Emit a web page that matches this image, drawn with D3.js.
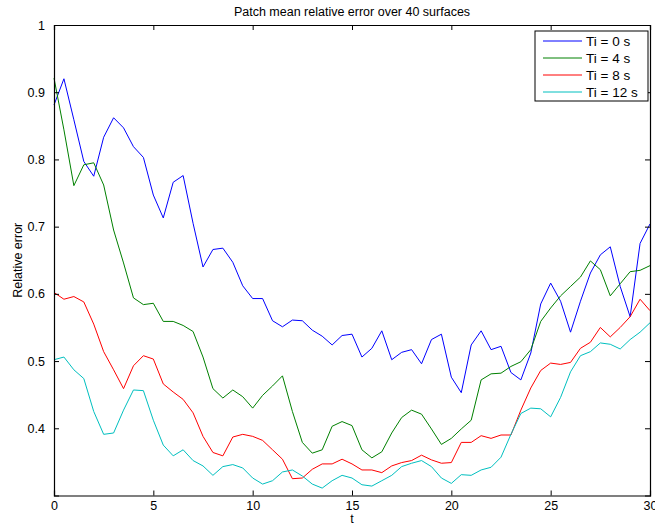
<!DOCTYPE html>
<html lang="en">

<head>
    <meta charset="UTF-8">
    <title>Patch mean relative error over 40 surfaces</title>
    <style>
        body {
            margin: 0;
            background: #fff;
        }

        svg text {
            font-family: "Liberation Sans", Arial, sans-serif;
            fill: #000;
        }
    </style>
</head>

<body>
    <div class="box"></div>
    <script src="https://d3js.org/d3.v7.min.js"></script>

    <script>
        // sample times, every 0.5 s from 0 to 30
        const tValues = d3.range(0, 30.001, 0.5);

        const ti0 = [0.881, 0.920, 0.859, 0.797, 0.775, 0.833, 0.862, 0.847, 0.819, 0.803,
            0.747, 0.713, 0.766, 0.776, 0.705, 0.640, 0.666, 0.668, 0.647, 0.612,
            0.593, 0.593, 0.560, 0.551, 0.561, 0.560, 0.546, 0.537, 0.524, 0.538,
            0.540, 0.506, 0.519, 0.545, 0.502, 0.513, 0.517, 0.496, 0.532, 0.540,
            0.476, 0.453, 0.524, 0.545, 0.517, 0.522, 0.483, 0.472, 0.512, 0.585,
            0.616, 0.589, 0.543, 0.589, 0.631, 0.658, 0.670, 0.611, 0.566, 0.675,
            0.704];

        const ti4 = [0.921, 0.844, 0.761, 0.792, 0.795, 0.762, 0.695, 0.646, 0.594, 0.584,
            0.586, 0.559, 0.559, 0.553, 0.544, 0.506, 0.459, 0.445, 0.457, 0.447,
            0.430, 0.449, 0.463, 0.478, 0.425, 0.379, 0.363, 0.368, 0.403, 0.410,
            0.404, 0.368, 0.356, 0.365, 0.393, 0.416, 0.427, 0.421, 0.399, 0.376,
            0.385, 0.399, 0.412, 0.472, 0.481, 0.482, 0.492, 0.499, 0.517, 0.559,
            0.579, 0.597, 0.611, 0.625, 0.649, 0.636, 0.597, 0.615, 0.633, 0.635,
            0.642];

        const ti8 = [0.602, 0.592, 0.596, 0.588, 0.555, 0.514, 0.487, 0.459, 0.493, 0.508,
            0.503, 0.466, 0.454, 0.443, 0.423, 0.388, 0.364, 0.359, 0.387, 0.391,
            0.388, 0.382, 0.368, 0.354, 0.325, 0.326, 0.339, 0.347, 0.347, 0.354,
            0.347, 0.338, 0.338, 0.334, 0.344, 0.349, 0.352, 0.360, 0.353, 0.348,
            0.349, 0.379, 0.379, 0.389, 0.385, 0.390, 0.390, 0.427, 0.460, 0.486,
            0.497, 0.495, 0.498, 0.519, 0.528, 0.550, 0.536, 0.550, 0.566, 0.592,
            0.575];

        const ti12 = [0.502, 0.506, 0.487, 0.474, 0.425, 0.391, 0.393, 0.427, 0.457, 0.456,
            0.412, 0.375, 0.359, 0.368, 0.352, 0.344, 0.330, 0.343, 0.346, 0.341,
            0.326, 0.317, 0.322, 0.335, 0.338, 0.329, 0.317, 0.311, 0.322, 0.330,
            0.326, 0.316, 0.314, 0.322, 0.330, 0.343, 0.348, 0.352, 0.343, 0.326,
            0.318, 0.331, 0.330, 0.338, 0.342, 0.357, 0.391, 0.422, 0.430, 0.429,
            0.417, 0.446, 0.484, 0.508, 0.514, 0.527, 0.525, 0.518, 0.532, 0.543,
            0.557];

        const seriesNames = ["Ti = 0 s", "Ti = 4 s", "Ti = 8 s", "Ti = 12 s"];
        const seriesColors = ["#0000ff", "#008000", "#ff0000", "#00bfbf"];
        const xTicks = [0, 5, 10, 15, 20, 25, 30];
        const yTicks = [0.4, 0.5, 0.6, 0.7, 0.8, 0.9, 1];

        {
            const width = 655;
            const height = 527;
            const margin = { top: 25, right: 5, bottom: 31.5, left: 54 };
            const innerWidth = width - margin.left - margin.right;
            const innerHeight = height - margin.top - margin.bottom;

            const svg = d3.select(".box").append("svg")
                .attr("width", width)
                .attr("height", height);

            const g = svg.append("g")
                .attr("transform", `translate(${margin.left},${margin.top})`);

            const x = d3.scaleLinear().domain([0, 30]).range([0, innerWidth]);
            const y = d3.scaleLinear().domain([0.3, 1]).range([innerHeight, 0]);

            const series = [ti0, ti4, ti8, ti12];

            // 曲线
            const line = d3.line()
                .x((d, i) => x(tValues[i]))
                .y(d => y(d));

            g.selectAll("path.series").data(series).join("path")
                .attr("class", "series")
                .attr("fill", "none")
                .attr("stroke", (d, i) => seriesColors[i])
                .attr("stroke-width", 1)
                .attr("d", line);

            // axes, matlab style: ticks point inwards, on all four sides
            const tickLen = 5;
            const fs = 12.5;

            const bottom = g.append("g")
                .attr("transform", `translate(0,${innerHeight})`)
                .call(d3.axisBottom(x).tickValues(xTicks).tickSize(-tickLen).tickPadding(6).tickFormat(d3.format("d")));
            const top = g.append("g")
                .call(d3.axisTop(x).tickValues(xTicks).tickSize(-tickLen).tickFormat(""));
            const left = g.append("g")
                .call(d3.axisLeft(y).tickValues(yTicks).tickSize(-tickLen).tickPadding(9).tickFormat(d3.format("")));
            const right = g.append("g")
                .attr("transform", `translate(${innerWidth},0)`)
                .call(d3.axisRight(y).tickValues(yTicks).tickSize(-tickLen).tickFormat(""));

            [bottom, top, left, right].forEach(a => {
                a.select(".domain").attr("stroke", "#000").attr("stroke-width", 1.2);
                a.selectAll(".tick line").attr("stroke", "#000");
                a.selectAll("text")
                    .style("font-size", fs + "px")
                    .style("font-family", '"Liberation Sans", Arial, sans-serif');
            });

            // 标题与坐标轴标签
            svg.append("text")
                .attr("x", margin.left + innerWidth / 2)
                .attr("y", 16)
                .attr("text-anchor", "middle")
                .style("font-size", fs + "px")
                .text("Patch mean relative error over 40 surfaces");

            svg.append("text")
                .attr("x", margin.left + innerWidth / 2)
                .attr("y", height - 4)
                .attr("text-anchor", "middle")
                .style("font-size", fs + "px")
                .text("t");

            svg.append("text")
                .attr("transform", `translate(22,${margin.top + innerHeight / 2}) rotate(-90)`)
                .attr("text-anchor", "middle")
                .style("font-size", fs + "px")
                .text("Relative error");

            // legend
            const lg = svg.append("g").attr("transform", "translate(535,31)");
            lg.append("rect")
                .attr("width", 113)
                .attr("height", 70)
                .attr("fill", "#fff")
                .attr("stroke", "#000")
                .attr("stroke-width", 1);

            const rows = lg.selectAll("g.row").data(seriesNames).join("g")
                .attr("class", "row")
                .attr("transform", (d, i) => `translate(0,${10 + i * 17})`);
            rows.append("line")
                .attr("x1", 8).attr("x2", 47)
                .attr("stroke", (d, i) => seriesColors[i])
                .attr("stroke-width", 1);
            rows.append("text")
                .attr("x", 51)
                .attr("dy", "0.35em")
                .style("font-size", "13.5px")
                .text(d => d);
        }
    </script>
</body>

</html>
